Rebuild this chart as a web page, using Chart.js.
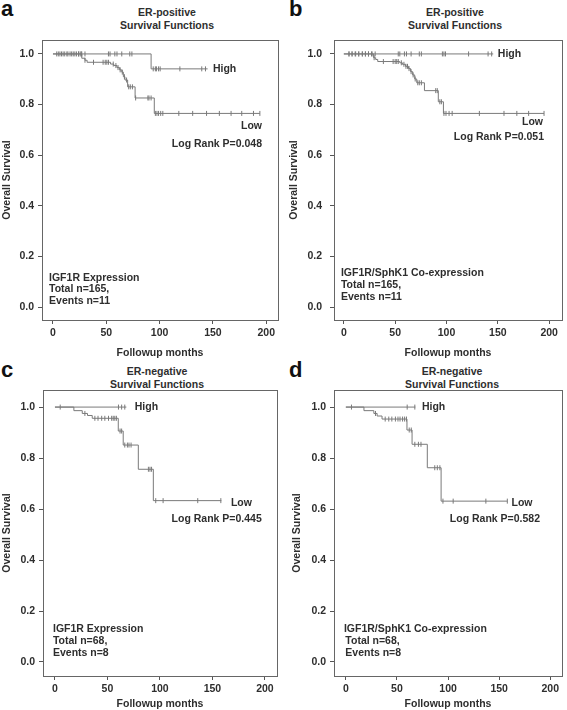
<!DOCTYPE html>
<html>
<head>
<meta charset="utf-8">
<script src="https://cdn.jsdelivr.net/npm/chart.js@4.4.1/dist/chart.umd.min.js"></script>
<style>
  html, body { margin: 0; padding: 0; background: #fff; }
  body { position: relative; width: 567px; height: 710px; overflow: hidden;
         font-family: "Liberation Sans", Arial, sans-serif; color: #2e2e2e; }
  canvas { position: absolute; }
  .letter { position: absolute; font-weight: bold; font-size: 22px; line-height: 22px; color: #111; }
  .ttl { position: absolute; width: 160px; font-weight: bold; font-size: 10.5px; line-height: 13px; text-align: center; }
</style>
</head>
<body>
<div class="letter" style="left:1px;top:-2px">a</div>
<div class="letter" style="left:289px;top:-2px">b</div>
<div class="letter" style="left:1px;top:359px">c</div>
<div class="letter" style="left:289px;top:359px">d</div>
<div class="ttl" style="left:87px;top:6px">ER-positive<br>Survival Functions</div>
<div class="ttl" style="left:375px;top:6px">ER-positive<br>Survival Functions</div>
<div class="ttl" style="left:77px;top:365px">ER-negative<br>Survival Functions</div>
<div class="ttl" style="left:372px;top:365px">ER-negative<br>Survival Functions</div>
<canvas id="ca" width="285" height="330" style="left:0;top:30px"></canvas>
<canvas id="cb" width="282" height="330" style="left:285px;top:30px"></canvas>
<canvas id="cc" width="285" height="330" style="left:0;top:380px"></canvas>
<canvas id="cd" width="282" height="330" style="left:285px;top:380px"></canvas>
<script>
// axis ticks
var xTicks = [0, 50, 100, 150, 200];
var yTicks = [0, 0.2, 0.4, 0.6, 0.8, 1.0];

// a: ER-positive, IGF1R expression
var aHighT = [0, 92, 145];
var aHighS = [1.0, 0.941, 0.941];
var aHighCens = [5, 8, 11, 14, 17.5, 20.5, 24, 27, 30, 52, 53.5, 58, 60, 64.5, 72, 74, 94, 96, 97, 99, 100.5, 119, 139.5, 143];
var aLowT = [0, 27, 30, 32, 54, 57, 60, 62.5, 64.5, 66, 67.5, 70, 77, 95, 194];
var aLowS = [1.0, 0.983, 0.975, 0.967, 0.960, 0.954, 0.946, 0.937, 0.928, 0.910, 0.897, 0.870, 0.826, 0.765, 0.765];
var aLowCens = [3.5, 6.5, 9.5, 13, 16, 19, 22, 24, 25.5, 26.5, 30, 38, 47, 49, 50.5, 52, 56.5, 59, 61, 63, 65, 67, 69, 71, 72.5, 74.5, 77.5,
                89, 90, 92, 96, 97.5, 99, 101, 103, 118, 131, 144, 156, 167, 177, 188, 194];

// b: ER-positive, IGF1R/SphK1 co-expression
var bHighT = [0, 145.5];
var bHighS = [1.0, 1.0];
var bHighCens = [5, 8, 11.5, 14.5, 18, 21, 24, 27.5, 30.5, 53, 54.5, 59, 61, 65.5, 73.5, 75.5, 96, 97.5, 99, 121.5, 140.5, 144];
var bLowT = [0, 29, 31, 33, 54.5, 57, 60, 63, 65, 67, 69, 71, 78.5, 92, 97, 195];
var bLowS = [1.0, 0.985, 0.978, 0.970, 0.965, 0.959, 0.951, 0.942, 0.930, 0.917, 0.901, 0.886, 0.855, 0.811, 0.765, 0.765];
var bLowCens = [5, 8, 11, 14.5, 18, 21, 24, 27, 29.5, 38.5, 48, 50, 51.5, 53, 56, 58.5, 60.5, 62, 63.5, 65.5, 67.5, 69.5, 72, 73.5, 75.5,
                89.5, 91, 93.5, 95, 97.5, 99.5, 102.5, 105.5, 132, 156, 168.5, 180, 195];

// c: ER-negative, IGF1R expression
var cHighT = [0, 68];
var cHighS = [1.0, 1.0];
var cHighCens = [5, 60.5, 63.5, 66.5];
var cLowT = [0, 18, 26, 31, 35.5, 60.3, 65, 79.4, 93.7, 158.5];
var cLowS = [1.0, 0.986, 0.975, 0.967, 0.956, 0.906, 0.851, 0.756, 0.633, 0.633];
var cLowCens = [28.5, 38, 41, 44.5, 47.5, 51, 54, 55.5, 57, 58.5, 62, 63.5, 66.5, 69, 70.5, 72.5, 89, 90.5, 92, 96, 103, 136, 158];

// d: ER-negative, IGF1R/SphK1 co-expression
var dHighT = [0, 68];
var dHighS = [1.0, 1.0];
var dHighCens = [5.5, 60, 67.5];
var dLowT = [0, 17.7, 27.4, 30.6, 35.4, 59.8, 64.8, 79.7, 93.2, 158];
var dLowS = [1.0, 0.986, 0.975, 0.965, 0.953, 0.910, 0.854, 0.762, 0.631, 0.631];
var dLowCens = [29, 38.5, 42, 45, 48.5, 51, 53, 55.5, 57.5, 59.3, 62, 64, 67.5, 71, 73.5, 87, 89.5, 92, 95, 105, 137, 158];

var lineColor = '#7a7a7a';
var textColor = '#2e2e2e';
var font = { family: '"Liberation Sans", Arial, sans-serif', size: 10.5, weight: 'bold' };

function stepPoints(T, S) {
  return T.map(function (t, i) { return { x: t, y: S[i] }; });
}
function survAt(T, S, t) {
  var s = S[0];
  for (var i = 0; i < T.length; i++) { if (T[i] <= t) s = S[i]; }
  return s;
}
function censPoints(T, S, C) {
  return C.map(function (t) { return { x: t, y: survAt(T, S, t) }; });
}

var boxPlugin = {
  id: 'box',
  afterDraw: function (chart) {
    var a = chart.chartArea, ctx = chart.ctx;
    ctx.save();
    ctx.strokeStyle = '#666';
    ctx.lineWidth = 1;
    ctx.strokeRect(Math.round(a.left) + 0.5, Math.round(a.top) + 0.5, Math.round(a.right - a.left), Math.round(a.bottom - a.top));
    ctx.restore();
  }
};

var notesPlugin = {
  id: 'notes',
  afterDraw: function (chart) {
    var notes = chart.options.plugins.notes.items || [];
    var ctx = chart.ctx, xs = chart.scales.x, ys = chart.scales.y;
    ctx.save();
    ctx.font = 'bold 10.5px "Liberation Sans", Arial, sans-serif';
    ctx.fillStyle = textColor;
    ctx.textBaseline = 'middle';
    notes.forEach(function (n) {
      ctx.textAlign = n.align || 'left';
      ctx.fillText(n.text, xs.getPixelForValue(n.x), ys.getPixelForValue(n.y));
    });
    ctx.restore();
  }
};

function makePanel(id, cfg) {
  var ctx = document.getElementById(id).getContext('2d');
  return new Chart(ctx, {
    type: 'line',
    data: {
      datasets: [
        { data: stepPoints(cfg.highT, cfg.highS), stepped: true, borderColor: lineColor, borderWidth: 1, pointRadius: 0, fill: false },
        { data: stepPoints(cfg.lowT, cfg.lowS), stepped: true, borderColor: lineColor, borderWidth: 1, pointRadius: 0, fill: false },
        { type: 'scatter', data: censPoints(cfg.highT, cfg.highS, cfg.highC), pointStyle: 'line', rotation: 90, pointRadius: 2.5,
          borderColor: lineColor, backgroundColor: lineColor, borderWidth: 1 },
        { type: 'scatter', data: censPoints(cfg.lowT, cfg.lowS, cfg.lowC), pointStyle: 'line', rotation: 90, pointRadius: 2.5,
          borderColor: lineColor, backgroundColor: lineColor, borderWidth: 1 }
      ]
    },
    options: {
      responsive: false,
      animation: false,
      events: [],
      layout: { padding: cfg.pad },
      plugins: { legend: { display: false }, tooltip: { enabled: false }, notes: { items: cfg.notes } },
      scales: {
        x: {
          type: 'linear', min: cfg.xMin, max: cfg.xMax,
          afterBuildTicks: function (s) { s.ticks = xTicks.map(function (v) { return { value: v }; }); },
          afterFit: function (s) { s.height = cfg.xH; s.paddingLeft = 0; s.paddingRight = 0; },
          grid: { drawOnChartArea: false, drawTicks: true, tickLength: 4, color: '#555' },
          border: { display: false },
          ticks: { font: font, color: textColor, padding: 3, maxRotation: 0, autoSkip: false },
          title: { display: true, text: 'Followup months', font: font, color: textColor, padding: { top: 0, bottom: cfg.xTitlePad } }
        },
        y: {
          min: cfg.yMin, max: cfg.yMax,
          afterBuildTicks: function (s) { s.ticks = yTicks.map(function (v) { return { value: v }; }); },
          afterFit: function (s) { s.width = cfg.yW; s.paddingTop = 0; s.paddingBottom = 0; },
          grid: { drawOnChartArea: false, drawTicks: true, tickLength: 4, color: '#555' },
          border: { display: false },
          ticks: { font: font, color: textColor, padding: cfg.yTickPad, autoSkip: false,
                   callback: function (v) { return v.toFixed(1); } },
          title: { display: true, text: 'Overall Survival', font: font, color: textColor, padding: { top: cfg.yTitlePad, bottom: 0 } }
        }
      }
    },
    plugins: [boxPlugin, notesPlugin]
  });
}

document.addEventListener('DOMContentLoaded', function () {
  makePanel('ca', {
    highT: aHighT, highS: aHighS, highC: aHighCens, lowT: aLowT, lowS: aLowS, lowC: aLowCens,
    pad: { top: 10, right: 7, left: 0, bottom: 0 }, yW: 42, xH: 40, xTitlePad: 1, yTitlePad: 1, yTickPad: 4,
    xMin: -10.3, xMax: 211, yMin: -0.051, yMax: 1.055,
    notes: [
      { text: 'High', x: 150, y: 0.94 },
      { text: 'Low', x: 196, y: 0.715, align: 'right' },
      { text: 'Log Rank P=0.048', x: 196, y: 0.644, align: 'right' },
      { text: 'IGF1R Expression', x: -3.7, y: 0.115 },
      { text: 'Total n=165,', x: -3.7, y: 0.071 },
      { text: 'Events n=11', x: -3.7, y: 0.024 }
    ]
  });
  makePanel('cb', {
    highT: bHighT, highS: bHighS, highC: bHighCens, lowT: bLowT, lowS: bLowS, lowC: bLowCens,
    pad: { top: 10, right: 1, left: 0, bottom: 0 }, yW: 49, xH: 40, xTitlePad: 1, yTitlePad: 3, yTickPad: 8,
    xMin: -9.6, xMax: 212.5, yMin: -0.051, yMax: 1.055,
    notes: [
      { text: 'High', x: 150, y: 1.0 },
      { text: 'Low', x: 194, y: 0.731, align: 'right' },
      { text: 'Log Rank P=0.051', x: 195, y: 0.672, align: 'right' },
      { text: 'IGF1R/SphK1 Co-expression', x: -2.9, y: 0.134 },
      { text: 'Total n=165,', x: -2.9, y: 0.087 },
      { text: 'Events n=11', x: -2.9, y: 0.040 }
    ]
  });
  makePanel('cc', {
    highT: cHighT, highS: cHighS, highC: cHighCens, lowT: cLowT, lowS: cLowS, lowC: cLowCens,
    pad: { top: 10, right: 8, left: 0, bottom: 0 }, yW: 43, xH: 34, xTitlePad: 0, yTitlePad: 1, yTickPad: 4,
    xMin: -11.4, xMax: 211.5, yMin: -0.055, yMax: 1.067,
    notes: [
      { text: 'High', x: 76, y: 1.0 },
      { text: 'Low', x: 187.6, y: 0.624, align: 'right' },
      { text: 'Log Rank P=0.445', x: 197, y: 0.561, align: 'right' },
      { text: 'IGF1R Expression', x: -1.9, y: 0.129 },
      { text: 'Total n=68,', x: -1.9, y: 0.082 },
      { text: 'Events n=8', x: -1.9, y: 0.035 }
    ]
  });
  makePanel('cd', {
    highT: dHighT, highS: dHighS, highC: dHighCens, lowT: dLowT, lowS: dLowS, lowC: dLowCens,
    pad: { top: 10, right: 2, left: 0, bottom: 0 }, yW: 49, xH: 34, xTitlePad: 0, yTitlePad: 6, yTickPad: 4,
    xMin: -11.6, xMax: 211.5, yMin: -0.055, yMax: 1.067,
    notes: [
      { text: 'High', x: 74.4, y: 1.0 },
      { text: 'Low', x: 182.6, y: 0.624, align: 'right' },
      { text: 'Log Rank P=0.582', x: 190, y: 0.561, align: 'right' },
      { text: 'IGF1R/SphK1 Co-expression', x: -1.9, y: 0.129 },
      { text: 'Total n=68,', x: -0.5, y: 0.082 },
      { text: 'Events n=8', x: -0.5, y: 0.035 }
    ]
  });
});
</script>
</body>
</html>
